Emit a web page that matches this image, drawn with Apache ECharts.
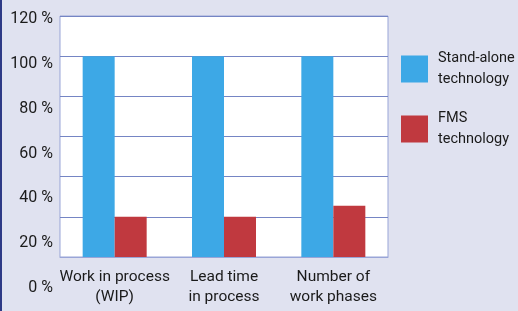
<!DOCTYPE html>
<html>
<head>
<meta charset="utf-8">
<script src="https://cdn.jsdelivr.net/npm/echarts@6/dist/echarts.min.js"></script>
<style>
    html, body { margin: 0; padding: 0; background: #E0E2F0; }
    #chart { width: 518px; height: 311px; }
</style>
</head>
<body>
<div id="chart"></div>
<script>
// categories and values
var categories = ['Work in process\n(WIP)', 'Lead time\nin process', 'Number of\nwork phases']
var standAlone = [100, 100, 100]
var fms = [20, 20, 25.5]
var seriesNames = ['Stand-alone\ntechnology', 'FMS\ntechnology']
var yTicks = [0, 20, 40, 60, 80, 100, 120]

var font = 'Roboto, sans-serif'

const chart = echarts.init(document.getElementById('chart'))
const options = {
    backgroundColor: '#E0E2F0',
    animation: false,
    graphic: [
        // dark edge on the left side
        { type: 'rect', left: 0, top: 0, shape: { width: 2, height: 311 }, style: { fill: '#2E3A86' } }
    ],
    legend: {
        orient: 'vertical',
        left: 396,
        top: 37,
        itemWidth: 27,
        itemHeight: 27,
        itemGap: 6,
        icon: 'rect',
        data: seriesNames,
        textStyle: {
            fontFamily: font,
            fontSize: 14.5,
            lineHeight: 21,
            color: '#1a1a1a',
            padding: [12, 0, 0, 5]
        }
    },
    grid: [
        {   // plot area
            left: 60, right: 130, top: 16, bottom: 54,
            show: true,
            backgroundColor: '#ffffff',
            borderColor: '#99A5D7',
            borderWidth: 1
        },
        {   // separate band for the y labels (they sit on their own spacing)
            left: 55, width: 1, top: 19, bottom: 23
        }
    ],
    xAxis: [
        {
            type: 'category',
            gridIndex: 0,
            data: categories,
            axisTick: { show: false },
            axisLine: { lineStyle: { color: '#99A5D7' } },
            axisLabel: {
                interval: 0,
                fontFamily: font,
                fontSize: 15.5,
                lineHeight: 20,
                color: '#1a1a1a',
                margin: 10
            }
        },
        { type: 'category', gridIndex: 1, show: false, data: ['x'] }
    ],
    yAxis: [
        {
            type: 'value',
            gridIndex: 0,
            min: 0, max: 120, interval: 20,
            axisLabel: { show: false },
            axisLine: { show: false },
            axisTick: { show: false },
            splitLine: { lineStyle: { color: '#7585C4', width: 1 } }
        },
        {
            type: 'value',
            gridIndex: 1,
            min: yTicks[0], max: yTicks[yTicks.length - 1], interval: 20,
            axisLine: { show: false },
            axisTick: { show: false },
            splitLine: { show: false },
            axisLabel: {
                fontFamily: font,
                fontSize: 16,
                color: '#1a1a1a',
                margin: 2,
                formatter: '{value} %'
            }
        }
    ],
    series: [
        {
            name: seriesNames[0],
            type: 'bar',
            data: standAlone,
            barWidth: 32,
            barGap: '0%',
            itemStyle: { color: '#3DA8E6' }
        },
        {
            name: seriesNames[1],
            type: 'bar',
            data: fms,
            barWidth: 32,
            itemStyle: { color: '#C0393F' }
        }
    ]
}
chart.setOption(options)
</script>
</body>
</html>
